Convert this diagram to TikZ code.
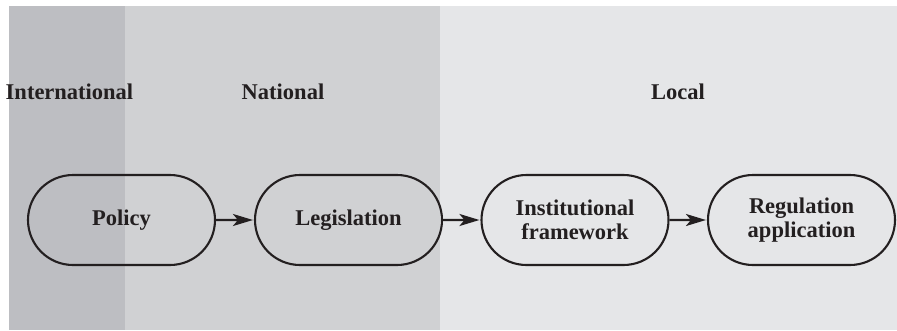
\documentclass[tikz,border=0pt]{standalone}
\usepackage{fontspec}
\setmainfont{Liberation Serif}
\usetikzlibrary{shapes.misc,arrows.meta}
\definecolor{bandA}{HTML}{BDBEC2}
\definecolor{bandB}{HTML}{D0D1D3}
\definecolor{bandC}{HTML}{E5E6E8}
\definecolor{ink}{HTML}{231F20}
\tikzset{
  stage/.style={draw=ink, line width=2.1pt, rounded rectangle, minimum width=187pt, minimum height=90pt, inner sep=0pt, align=center, font=\fontsize{22.5}{23.5}\selectfont\bfseries, text=ink},
  level/.style={font=\fontsize{22.5}{24}\selectfont\bfseries, text=ink, anchor=base},
  flow/.style={draw=ink, line width=2.2pt, -{Stealth[length=20pt,width=12pt,inset=5pt]}, shorten >=1pt}
}
\begin{document}
\begin{tikzpicture}[x=1pt,y=-1pt]
\useasboundingbox (0,0) rectangle (897,330);
\fill[bandC] (440,6) rectangle (897,330);
\fill[bandB] (125,6) rectangle (440,330);
\fill[bandA] (9,6) rectangle (125,330);
\node[level] (intl) at (69.5,99) {International};
\node[level] (natl) at (283,99) {National};
\node[level] (locl) at (678,99) {Local};
\node[stage] (policy) at (121.5,220) {Policy};
\node[stage] (legis) at (348.5,220) {Legislation};
\node[stage] (inst) at (575,220) {Institutional\\framework};
\node[stage] (reg) at (801.5,220) {Regulation\\application};
\draw[flow] (policy) -- (legis);
\draw[flow] (legis) -- (inst);
\draw[flow] (inst) -- (reg);
\end{tikzpicture}
\end{document}
